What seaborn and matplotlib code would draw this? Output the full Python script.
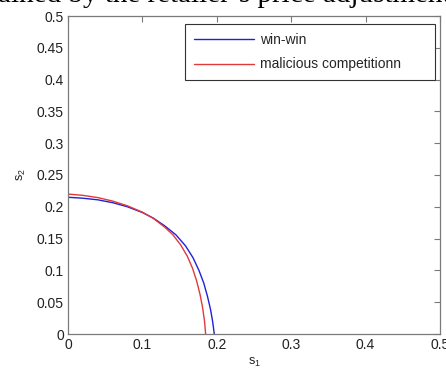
import matplotlib
matplotlib.use("Agg")
import matplotlib.pyplot as plt
import seaborn as sns
import pandas as pd

# ---- data ----
winwin_s1 = [0.0, 0.02, 0.04, 0.06, 0.08, 0.10, 0.115, 0.13, 0.145, 0.158, 0.168,
             0.176, 0.1825, 0.1875, 0.1915, 0.1945, 0.1966]
winwin_s2 = [0.215, 0.2135, 0.2110, 0.2065, 0.2000, 0.1910, 0.1820, 0.1700, 0.1560, 0.1385, 0.1200,
             0.1000, 0.0800, 0.0590, 0.0390, 0.0190, 0.0]
malic_s1 = [0.0, 0.02, 0.04, 0.06, 0.08, 0.10, 0.115, 0.13, 0.141, 0.1515, 0.1605,
            0.1675, 0.1730, 0.1775, 0.1810, 0.1835, 0.1850]
malic_s2 = [0.220, 0.2180, 0.2145, 0.2090, 0.2015, 0.1915, 0.1815, 0.1680, 0.1560, 0.1400, 0.1220,
            0.1030, 0.0830, 0.0620, 0.0410, 0.0200, 0.0]
series_names = ["win-win", "malicious competitionn"]
x_ticks = [0, 0.1, 0.2, 0.3, 0.4, 0.5]
y_ticks = [0, 0.05, 0.1, 0.15, 0.2, 0.25, 0.3, 0.35, 0.4, 0.45, 0.5]
tick_labels_x = ["0", "0.1", "0.2", "0.3", "0.4", "0.5"]
tick_labels_y = ["0", "0.05", "0.1", "0.15", "0.2", "0.25", "0.3", "0.35", "0.4", "0.45", "0.5"]

df = pd.concat([
    pd.DataFrame({"s1": winwin_s1, "s2": winwin_s2, "series": series_names[0]}),
    pd.DataFrame({"s1": malic_s1, "s2": malic_s2, "series": series_names[1]}),
], ignore_index=True)

sns.set_style("white")
plt.rcParams["font.family"] = ["Liberation Sans", "DejaVu Sans"]
plt.rcParams["mathtext.fontset"] = "custom"
plt.rcParams["mathtext.rm"] = "Liberation Sans"
plt.rcParams["lines.solid_joinstyle"] = "round"

fig = plt.figure(figsize=(4.46, 3.76), dpi=100)
ax = fig.add_axes([68 / 446, 42 / 376, 372 / 446, 318 / 376])

palette = {series_names[0]: "#2020d8", series_names[1]: "#e03a3a"}
sns.lineplot(data=df, x="s1", y="s2", hue="series", palette=palette, sort=False,
             estimator=None, linewidth=1.0, ax=ax)

ax.set_xlim(0, 0.5)
ax.set_ylim(0, 0.5)
ax.set_xticks(x_ticks)
ax.set_xticklabels(tick_labels_x)
ax.set_yticks(y_ticks)
ax.set_yticklabels(tick_labels_y)
ax.tick_params(direction="in", length=4, width=0.8, top=True, right=True,
               labelsize=10, colors="#7a7a7a", labelcolor="#222222", pad=3)
for sp in ax.spines.values():
    sp.set_visible(True)
    sp.set_color("#7a7a7a")
    sp.set_linewidth(0.9)

ax.set_xlabel("s$_1$", fontsize=9, color="#222222", labelpad=3)
ax.set_ylabel("s$_2$", fontsize=9, color="#222222", labelpad=6)

leg = ax.legend(loc="upper left", bbox_to_anchor=(0.3145, 0.975, 0.672, 0.0), mode="expand",
                fontsize=10, handlelength=4.3, handletextpad=0.45, labelspacing=0.75,
                borderpad=0.65, fancybox=False, framealpha=1, edgecolor="#333333",
                borderaxespad=0)
leg.get_frame().set_linewidth(0.8)

fig.text(-0.004, 1 - 2 / 376, "ained by the retailer\u2019s price adjustment",
         family=["Liberation Serif", "DejaVu Serif"], fontsize=21, va="baseline",
         ha="left", color="black")

fig.savefig("out.png", dpi=100)
